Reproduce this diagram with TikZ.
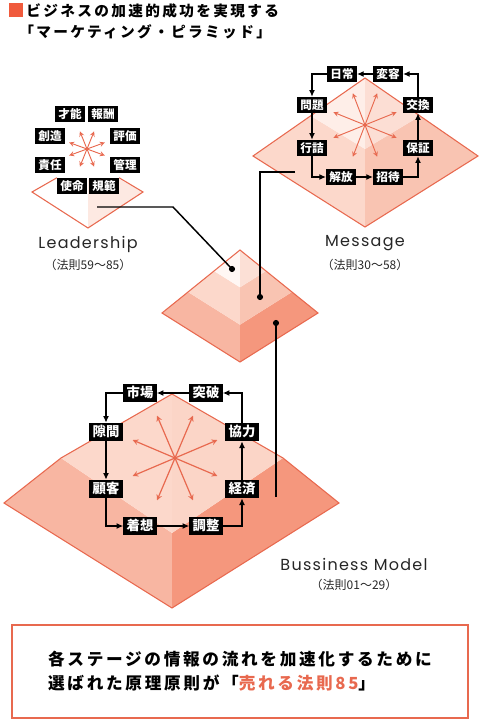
\documentclass[tikz,border=0pt]{standalone}
\usepackage{fontspec}
\newfontfamily\jp{Noto Sans CJK JP}
\newfontfamily\jpw{Noto Sans CJK JP}[LetterSpace=16]
\newfontfamily\lat{Poppins}[LetterSpace=8]
\usepackage{tikz}
\usetikzlibrary{arrows.meta}

\definecolor{edgeC}{HTML}{E8694F}
\definecolor{markC}{HTML}{F05A3C}
\definecolor{topA}{HTML}{FFF7F4}
\definecolor{topB}{HTML}{FCE0D6}
\definecolor{midA}{HTML}{FCD8CB}
\definecolor{midB}{HTML}{F9C4B2}
\definecolor{botA}{HTML}{F8B6A2}
\definecolor{botB}{HTML}{F5977D}

\tikzstyle{tag} = [fill=black, text=white, inner xsep=2.4pt, inner ysep=1.8pt, text height=7.2pt, text depth=1.2pt, font=\jp\bfseries\fontsize{8.7}{9}\selectfont]
\tikzstyle{bigtag} = [tag, inner ysep=2pt, text height=8.2pt, text depth=1.4pt, font=\jp\bfseries\fontsize{10}{10}\selectfont]
\tikzstyle{flow} = [-{Latex[length=5pt,width=4.5pt]}, line width=0.9pt]
\tikzstyle{ray} = [->, >=stealth, draw=edgeC, line width=0.7pt]
\tikzstyle{rim} = [draw=edgeC, line width=0.8pt, line join=miter]
\tikzstyle{lead} = [line width=1.1pt]
\tikzstyle{caption} = [font=\lat\fontsize{12}{12}\selectfont, text=black!85]
\tikzstyle{laws} = [font=\jp\fontsize{9}{9}\selectfont, text=black!85]
\tikzstyle{title} = [font=\jpw\bfseries\fontsize{11}{11}\selectfont, inner sep=0pt]

\begin{document}
\begin{tikzpicture}[x=0.75pt,y=-0.75pt]
        \useasboundingbox (0,0) rectangle (480,721);

        % title
        \fill[markC] (9,3) rectangle (23,17);
        \node[title, anchor=west] (head) at (26,11) {ビジネスの加速的成功を実現する};
        \node[title, anchor=west] (head2) at (19,32) {「マーケティング・ピラミッド」};

        % centre pyramid
        \coordinate (pT) at (240,250);
        \coordinate (pL) at (162,313);
        \coordinate (pR) at (318,313);
        \coordinate (pB) at (240,362);
        \coordinate (pL2) at (188,292);
        \coordinate (pR2) at (292,292);
        \coordinate (pB2) at (240,324.7);
        \coordinate (pL1) at (214,271);
        \coordinate (pR1) at (266,271);
        \coordinate (pB1) at (240,287.3);
        \fill[botA] (pL) -- (pB) -- (pB2) -- (pL2) -- cycle;
        \fill[botB] (pR) -- (pB) -- (pB2) -- (pR2) -- cycle;
        \fill[midA] (pL2) -- (pB2) -- (pB1) -- (pL1) -- cycle;
        \fill[midB] (pR2) -- (pB2) -- (pB1) -- (pR1) -- cycle;
        \fill[topA] (pT) -- (pL1) -- (pB1) -- cycle;
        \fill[topB] (pT) -- (pR1) -- (pB1) -- cycle;
        \draw[rim] (pT) -- (pL) -- (pB) -- (pR) -- cycle;

        % Leadership
        \fill[topB!70] (88,179) -- (119,179) -- (143,192) -- (88,228) -- cycle;
        \coordinate (lc) at (87,149);
        \foreach \a in {20,68,112,160,200,248,292,340}
            \draw[ray] (lc) -- ++(\a:19);
        \node[tag] (saino) at (70,114) {才能};
        \node[tag] (hoshu) at (103,114) {報酬};
        \node[tag] (sozo) at (50,136) {創造};
        \node[tag] (hyoka) at (125,136) {評価};
        \node[tag] (sekinin) at (50,165) {責任};
        \node[tag] (kanri) at (125,165) {管理};
        \node[tag] (shimei) at (72,186) {使命};
        \node[tag] (kihan) at (104,186) {規範};
        \draw[rim] (shimei.north west) -- (32,192) -- (88,228) -- (143,192) -- (kihan.north east);
        \node[caption] (lead) at (88,244) {Leadership};
        \node[laws] (leadlaw) at (88,265) {（法則59〜85）};

        % Message
        \fill[midA] (253,156) -- (365,227) -- (365,149) -- (311,116) -- cycle;
        \fill[midB] (478,156) -- (365,227) -- (365,149) -- (420,116) -- cycle;
        \fill[topA!60!topB] (365,78) -- (311,116) -- (365,149) -- cycle;
        \fill[topB!80!midA] (365,78) -- (420,116) -- (365,149) -- cycle;
        \draw[rim] (365,78) -- (253,156) -- (365,227) -- (478,156) -- cycle;
        \coordinate (mc) at (365,125);
        \foreach \a in {22,69,111,158,202,249,291,338}
            \draw[ray] (mc) -- ++(\a:34);
        \node[tag] (nichijo) at (342,74) {日常};
        \node[tag] (henyo) at (388,74) {変容};
        \node[tag] (mondai) at (312,105) {問題};
        \node[tag] (kokan) at (418,105) {交換};
        \node[tag] (ikizu) at (312,148) {行詰};
        \node[tag] (hosho) at (418,148) {保証};
        \node[tag] (kaiho) at (341,177) {解放};
        \node[tag] (shotai) at (388,177) {招待};
        \draw[flow] (henyo) -- (nichijo);
        \draw[flow] (nichijo.west) -| (mondai.north);
        \draw[flow] (mondai) -- (ikizu);
        \draw[flow] (ikizu.south) |- (kaiho.west);
        \draw[flow] (kaiho) -- (shotai);
        \draw[flow] (shotai.east) -| (hosho.south);
        \draw[flow] (hosho) -- (kokan);
        \draw[flow] (kokan.north) |- (henyo.east);
        \node[caption] (msg) at (365,243) {Message};
        \node[laws] (msglaw) at (365,265) {（法則30〜58）};

        % Bussiness Model
        \fill[botA] (61,458) -- (4,503) -- (172,608) -- (172,533) -- cycle;
        \fill[botB] (283,458) -- (339,503) -- (172,608) -- (172,533) -- cycle;
        \fill[midA] (172,394) -- (61,458) -- (172,533) -- cycle;
        \fill[midA!85!midB] (172,394) -- (283,458) -- (172,533) -- cycle;
        \draw[rim] (172,394) -- (61,458) -- (4,503) -- (172,608) -- (339,503) -- (283,458) -- cycle;
        \coordinate (bc) at (175,458);
        \foreach \a in {23,67,113,157,203,247,293,337}
            \draw[ray, line width=0.9pt] (bc) -- ++(\a:46);
        \node[bigtag] (ichiba) at (140,393) {市場};
        \node[bigtag] (toppa) at (206,393) {突破};
        \node[bigtag] (sukima) at (106,432) {隙間};
        \node[bigtag] (kyoryoku) at (242,432) {協力};
        \node[bigtag] (kokyaku) at (106,489) {顧客};
        \node[bigtag] (keizai) at (242,489) {経済};
        \node[bigtag] (chakuso) at (140,526) {着想};
        \node[bigtag] (chosei) at (206,526) {調整};
        \draw[flow] (toppa) -- (ichiba);
        \draw[flow] (ichiba.west) -| (sukima.north);
        \draw[flow] (sukima) -- (kokyaku);
        \draw[flow] (kokyaku.south) |- (chakuso.west);
        \draw[flow] (chakuso) -- (chosei);
        \draw[flow] (chosei.east) -| (keizai.south);
        \draw[flow] (keizai) -- (kyoryoku);
        \draw[flow] (kyoryoku.north) |- (toppa.east);
        \node[caption] (biz) at (354,564) {Bussiness Model};
        \node[laws] (bizlaw) at (354,585) {（法則01〜29）};

        % leader lines
        \coordinate (d1) at (232,269);
        \coordinate (d2) at (260,297);
        \coordinate (d3) at (276,323);
        \coordinate (e1) at (97,207);
        \coordinate (e2) at (295,172);
        \coordinate (e3) at (276,497);
        \draw[lead] (e1) -- (173,207) -- (d1);
        \draw[lead] (e2) -- (d2 |- e2) -- (d2);
        \draw[lead] (e3) -- (d3);
        \foreach \d in {d1,d2,d3}
            \fill (\d) circle[radius=2.3pt];

        % note
        \node[draw=edgeC, line width=1.5pt, minimum width=342pt, minimum height=69.5pt, align=left,
              font=\jpw\bfseries\fontsize{12.5}{18}\selectfont] (note) at (240,671.5)
             {各ステージの情報の流れを加速化するために\\選ばれた原理原則が「\textcolor{edgeC}{売れる法則85}」};
\end{tikzpicture}
\end{document}
